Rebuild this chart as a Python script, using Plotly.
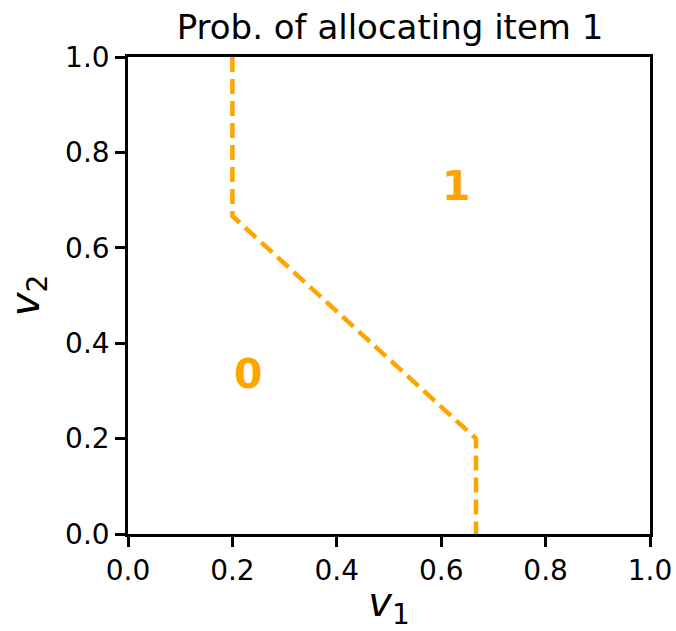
import plotly.graph_objects as go

# Boundary of allocation region
boundary_x = [0.2, 0.2, 2/3, 2/3]
boundary_y = [1.0, 2/3, 0.2, 0.0]

# Region labels
region_text = ["0", "1"]
region_x = [0.23, 0.63]
region_y = [0.335, 0.73]

tick_vals = [0.0, 0.2, 0.4, 0.6, 0.8, 1.0]
tick_text = ["0.0", "0.2", "0.4", "0.6", "0.8", "1.0"]

ORANGE = "#FFA500"
FONT = "DejaVu Sans"

fig = go.Figure()
fig.add_trace(go.Scatter(
    x=boundary_x, y=boundary_y, mode="lines",
    line=dict(color=ORANGE, width=4.5, dash="15px,7px"),
    showlegend=False, hoverinfo="skip",
))
for t, x, y in zip(region_text, region_x, region_y):
    fig.add_annotation(x=x, y=y, text=f"<b>{t}</b>", showarrow=False,
                       font=dict(family=FONT, size=41, color=ORANGE),
                       xref="x", yref="y")

axis_common = dict(
    range=[0, 1], tickvals=tick_vals, ticktext=tick_text,
    showgrid=False, zeroline=False, automargin=False,
    showline=True, linecolor="black", linewidth=2.5, mirror=True,
    ticks="outside", ticklen=10, tickwidth=2.5, tickcolor="black",
    tickfont=dict(family=FONT, size=28, color="black"),
)

fig.update_layout(
    width=676, height=631,
    margin=dict(l=128, r=26, t=57, b=97),
    paper_bgcolor="white", plot_bgcolor="white",
    title=dict(text="Prob. of allocating item 1", x=0.577, xanchor="center",
               y=0.957, yanchor="middle",
               font=dict(family=FONT, size=34, color="black")),
    xaxis=dict(**axis_common,
               title=dict(text="<i>v</i><sub>1</sub>", standoff=6,
                          font=dict(family=FONT, size=40, color="black"))),
    yaxis=dict(**axis_common,
               title=dict(text="<i>v</i><sub>2</sub>", standoff=14,
                          font=dict(family=FONT, size=40, color="black"))),
)

fig.write_html("out.html")
